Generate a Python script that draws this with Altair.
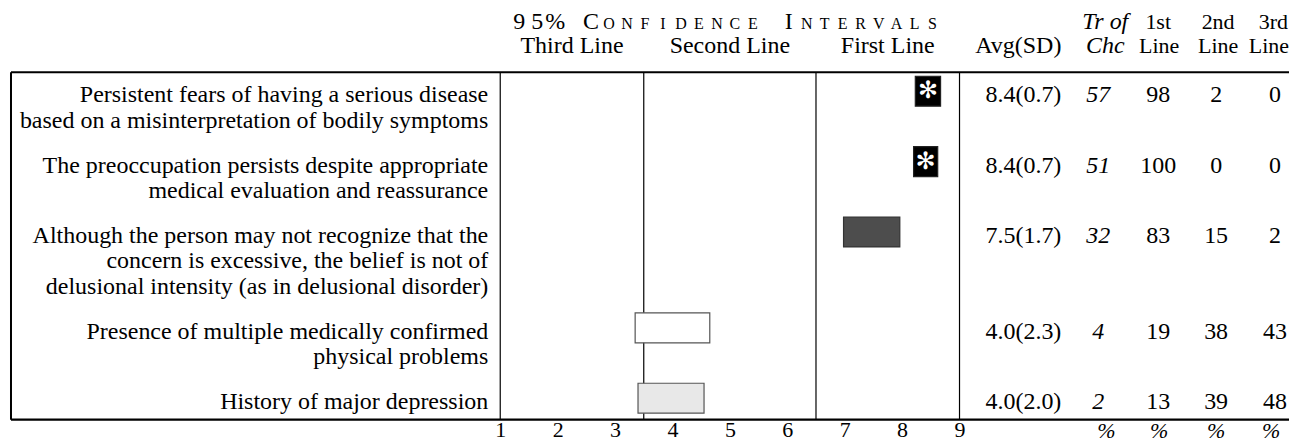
import altair as alt
import pandas as pd

# ---------------- data ----------------
criteria = [
    ["Persistent fears of having a serious disease",
     "based on a misinterpretation of bodily symptoms"],
    ["The preoccupation persists despite appropriate",
     "medical evaluation and reassurance"],
    ["Although the person may not recognize that the",
     "concern is excessive, the belief is not of",
     "delusional intensity (as in delusional disorder)"],
    ["Presence of multiple medically confirmed",
     "physical problems"],
    ["History of major depression"],
]
ci_low = [8.23, 8.20, 6.98, 3.35, 3.40]
ci_high = [8.67, 8.62, 7.96, 4.65, 4.55]
starred = [True, True, False, False, False]
avg = [8.4, 8.4, 7.5, 4.0, 4.0]
sd = [0.7, 0.7, 1.7, 2.3, 2.0]
tr_of_chc = [57, 51, 32, 4, 2]
first_pct = [98, 100, 83, 19, 13]
second_pct = [2, 0, 15, 38, 39]
third_pct = [0, 0, 2, 43, 48]
band_cuts = [1, 3.5, 6.5, 9]
band_names = ["Third Line", "Second Line", "First Line"]
tick_values = [1, 2, 3, 4, 5, 6, 7, 8, 9]
ci_title = "95% CONFIDENCE INTERVALS"

# ---------------- styles / layout ----------------
bar_fill = ["black", "black", "#4d4d4d", "white", "#e8e8e8"]
bar_stroke = ["#222222", "#222222", "#333333", "#555555", "#555555"]
SERIF = "Liberation Serif"
FS = 24
W, H = 1283, 412
TOP = 64
LEFT = 3
X1, X9 = 493.0, 953.0
PPU = (X9 - X1) / 8.0
LINE_H = 25.5
ROW_GAP = 19.5
FIRST_BASE = 94


def to_val(px):
    return 1 + (px - X1) / PPU


xscale = alt.Scale(domain=[to_val(0), to_val(W)], nice=False, zero=False)
xaxis = alt.Axis(values=tick_values, title=None, grid=False, ticks=False, domain=False,
                 labelFont=SERIF, labelFontSize=22, labelColor="black", labelPadding=0,
                 labelAngle=0, labelOverlap=False, labelFlush=False)


def X(field):
    return alt.X(field, type="quantitative", scale=xscale, axis=xaxis)


def Y(field):
    return alt.Y(field, type="quantitative", scale=None)


row_base = []
yb = FIRST_BASE
for lines in criteria:
    row_base.append(yb)
    yb += len(lines) * LINE_H + ROW_GAP

one = pd.DataFrame({"a": [0]})
layers = []

# vertical band rules
layers.append(alt.Chart(pd.DataFrame({"v": band_cuts})).mark_rule(color="black", strokeWidth=1.2)
              .encode(x=X("v"), y=alt.value(TOP), y2=alt.value(H)))
# frame
layers.append(alt.Chart(one).mark_rule(color="black", strokeWidth=2.2)
              .encode(x=alt.value(LEFT), x2=alt.value(W), y=alt.value(TOP)))
layers.append(alt.Chart(one).mark_rule(color="black", strokeWidth=2.2)
              .encode(x=alt.value(LEFT), x2=alt.value(W), y=alt.value(H)))
layers.append(alt.Chart(one).mark_rule(color="black", strokeWidth=2)
              .encode(x=alt.value(LEFT), y=alt.value(TOP), y2=alt.value(H)))

# CI bars
ci_df = pd.DataFrame({
    "lo": ci_low, "hi": ci_high,
    "y0": [b - 26 for b in row_base], "y1": [b + 4 for b in row_base],
    "fill": bar_fill, "stroke": bar_stroke, "star": starred,
})
ci_df["mid"] = (ci_df["lo"] + ci_df["hi"]) / 2
ci_df["yc"] = (ci_df["y0"] + ci_df["y1"]) / 2
ci_df["sym"] = "\u273b"
layers.append(alt.Chart(ci_df).mark_rect(strokeWidth=1.2)
              .encode(x=X("lo"), x2="hi", y=Y("y0"), y2="y1",
                      fill=alt.Fill("fill:N", scale=None),
                      stroke=alt.Stroke("stroke:N", scale=None)))
layers.append(alt.Chart(ci_df[ci_df["star"]]).mark_text(font="DejaVu Sans", fontSize=24, color="white",
                                                       align="center", baseline="middle")
              .encode(x=X("mid"), y=Y("yc"), text="sym:N"))

# row labels
lab_rows = []
for lines, b in zip(criteria, row_base):
    for i, t in enumerate(lines):
        lab_rows.append({"text": t, "y": b + i * LINE_H})
layers.append(alt.Chart(pd.DataFrame(lab_rows)).mark_text(align="right", baseline="alphabetic",
                                                         font=SERIF, fontSize=FS, color="black")
              .encode(x=alt.value(481), y=Y("y"), text="text:N"))

# table columns
tab = pd.DataFrame({
    "y": row_base,
    "avg": [f"{a:.1f}({s:.1f})" for a, s in zip(avg, sd)],
    "tr": [str(v) for v in tr_of_chc],
    "p1": [str(v) for v in first_pct],
    "p2": [str(v) for v in second_pct],
    "p3": [str(v) for v in third_pct],
})
col_specs = [("avg", 1055, "right", "normal"), ("tr", 1092, "center", "italic"),
             ("p1", 1152, "center", "normal"), ("p2", 1210, "center", "normal"),
             ("p3", 1269, "center", "normal")]
for field, px, al, style in col_specs:
    layers.append(alt.Chart(tab).mark_text(align=al, baseline="alphabetic", font=SERIF, fontSize=FS,
                                           fontStyle=style, color="black")
                  .encode(x=alt.value(px), y=Y("y"), text=f"{field}:N"))

# header: band names
band_df = pd.DataFrame({"name": band_names,
                        "mid": [(band_cuts[i] + band_cuts[i + 1]) / 2 for i in range(3)]})
layers.append(alt.Chart(band_df).mark_text(align="center", baseline="alphabetic", font=SERIF,
                                           fontSize=FS, color="black")
              .encode(x=X("mid"), y=alt.value(45), text="name:N"))

# header: spaced small-caps title
chars = []
big_idx = {0, 1, 2, 4, 15}
for i, ch in enumerate(ci_title):
    if ch == " ":
        continue
    chars.append({"ch": ch, "xv": to_val(512 + 18 * i), "fs": FS if i in big_idx else 16})
layers.append(alt.Chart(pd.DataFrame(chars)).mark_text(align="center", baseline="alphabetic",
                                                      font=SERIF, color="black")
              .encode(x=X("xv"), y=alt.value(21), text="ch:N", size=alt.Size("fs:Q", scale=None)))

# header: table columns
hdr = [("Tr of", 1099, 21, "center", "italic", FS), ("1st", 1152, 21, "center", "normal", 22),
       ("2nd", 1212, 21, "center", "normal", 22), ("3rd", 1282, 21, "right", "normal", 22),
       ("Avg(SD)", 1055, 45, "right", "normal", FS), ("Chc", 1099, 45, "center", "italic", FS),
       ("Line", 1153, 45, "center", "normal", 22), ("Line", 1212, 45, "center", "normal", 22),
       ("Line", 1283, 45, "right", "normal", 22)]
for t, px, py, al, style, fs in hdr:
    layers.append(alt.Chart(pd.DataFrame({"t": [t]})).mark_text(align=al, baseline="alphabetic",
                                                               font=SERIF, fontSize=fs,
                                                               fontStyle=style, color="black")
                  .encode(x=alt.value(px), y=alt.value(py), text="t:N"))

# bottom % row
for px in [1100, 1153, 1210, 1265]:
    layers.append(alt.Chart(pd.DataFrame({"t": ["%"]})).mark_text(align="center", baseline="alphabetic",
                                                                 font=SERIF, fontSize=22,
                                                                 fontStyle="italic", color="black")
                  .encode(x=alt.value(px), y=alt.value(430), text="t:N"))

chart = (alt.layer(*layers)
         .properties(width=W, height=H, padding=0)
         .configure_view(stroke=None))

chart.save("out.html", embed_options={"renderer": "svg", "actions": False})
